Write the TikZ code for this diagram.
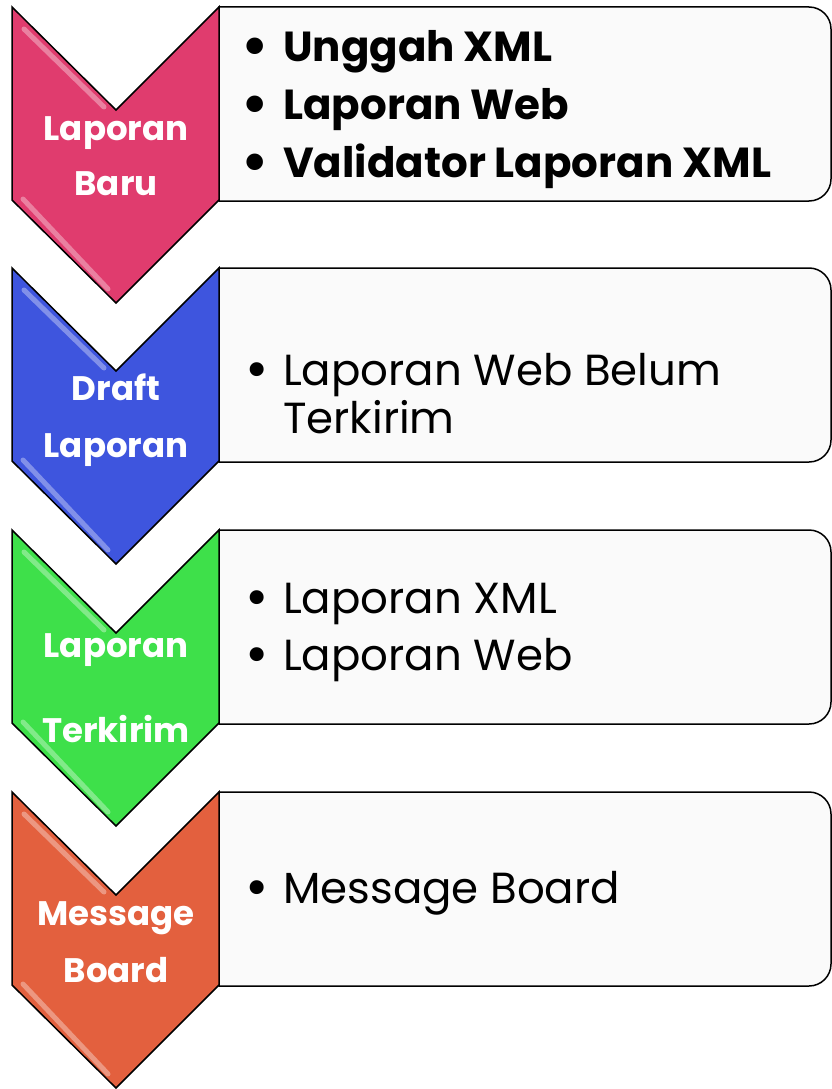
\documentclass[tikz,border=0pt]{standalone}
\usepackage{fontspec}
\setmainfont{Poppins}

\definecolor{barupink}{RGB}{224,60,110}
\definecolor{draftblue}{RGB}{62,85,222}
\definecolor{kirimgreen}{RGB}{62,224,74}
\definecolor{boardorange}{RGB}{227,96,62}
\definecolor{boxgray}{RGB}{250,250,250}

\tikzset{
  chevron/.style={draw=black, line width=1.5pt, line join=miter},
  infobox/.style={draw=black, line width=1.5pt, fill=boxgray},
  gloss/.style={white, opacity=0.35, line width=5pt, line cap=round},
  steplabel/.style={anchor=base, inner sep=0pt, text=white,
    font=\fontsize{34}{34}\selectfont\bfseries},
  itemtext/.style={anchor=base west, inner sep=0pt,
    font=\fontsize{43.5}{43.5}\selectfont},
  itembold/.style={itemtext, font=\fontsize{42}{42}\selectfont\bfseries}
}

\newcommand{\bul}{\llap{\raisebox{-3pt}{\scalebox{1.3}{\textbullet}}\hspace{14pt}}}

\begin{document}
\begin{tikzpicture}[x=1pt, y=-1pt]
    \useasboundingbox (0,0) rectangle (832,1089);

    % Chevrons and boxes, one row per step
    \foreach \top/\col/\lblA/\lblB/\ya/\yb in {
        7/barupink/Laporan/Baru/133/188,
        268/draftblue/Draft/Laporan/132/189,
        530/kirimgreen/Laporan/Terkirim/127/212,
        792/boardorange/Message/Board/133/190} {
        \begin{scope}[shift={(0,\top)}]
            % Box with rounded right corners
            \draw[infobox] (219,0) -- (809,0)
                .. controls (821.15,0) and (831,9.85) .. (831,22)
                -- (831,172)
                .. controls (831,184.15) and (821.15,194) .. (809,194)
                -- (219,194) -- cycle;

            % Chevron
            \draw[chevron, fill=\col] (12,0) -- (116,103) -- (219,0)
                -- (219,193) -- (116,296) -- (12,193) -- cycle;
            \draw[gloss] (24,22) -- (104,100);
            \draw[gloss] (23,192) -- (108,282);

            % Label
            \node[steplabel] (\lblA-\top) at (116,\ya) {\lblA};
            \node[steplabel] (\lblB-\top) at (116,\yb) {\lblB};
        \end{scope}
    }

    % Box texts
    \node[itembold] (unggah) at (283,62) {\bul Unggah XML};
    \node[itembold] (webbaru) at (283,120) {\bul Laporan Web};
    \node[itembold] (validator) at (283,177) {\bul Validator Laporan XML};

    \node[itemtext] (belum) at (283,385) {\bul Laporan Web Belum};
    \node[itemtext] (belumb) at (283,433) {Terkirim};

    \node[itemtext] (kirimxml) at (283,613) {\bul Laporan XML};
    \node[itemtext] (kirimweb) at (283,670) {\bul Laporan Web};

    \node[itemtext] (board) at (283,903) {\bul Message Board};

\end{tikzpicture}
\end{document}
